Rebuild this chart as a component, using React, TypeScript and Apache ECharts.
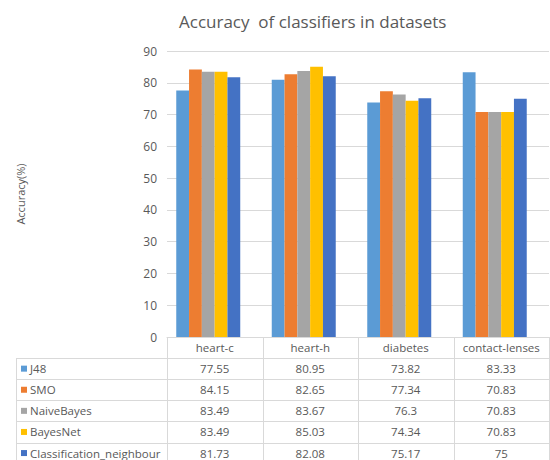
import React, { useEffect, useRef } from "react";
import * as echarts from "echarts";

const categories = ["heart-c", "heart-h", "diabetes", "contact-lenses"];
const seriesNames = ["J48", "SMO", "NaiveBayes", "BayesNet", "Classification_neighbour"];
const j48 = [77.55, 80.95, 73.82, 83.33];
const smo = [84.15, 82.65, 77.34, 70.83];
const naiveBayes = [83.49, 83.67, 76.3, 70.83];
const bayesNet = [83.49, 85.03, 74.34, 70.83];
const classificationNeighbour = [81.73, 82.08, 75.17, 75];
const seriesValues = [j48, smo, naiveBayes, bayesNet, classificationNeighbour];
const colors = ["#5B9BD5", "#ED7D31", "#A5A5A5", "#FFC000", "#4472C4"];
const yTicks = { min: 0, max: 90, interval: 10 };

const FONT = "'Open Sans', 'Noto Sans', sans-serif";
const TEXT = "#595959";
const LINE = "#d9d9d9";

export default function App() {
  const ref = useRef<HTMLDivElement>(null);
  useEffect(() => {
    if (!ref.current) return;
    const chart = echarts.init(ref.current, null, { renderer: "svg" });
    const L = 167, R = 549, TOP = 51, ZERO = 337, ROWH = 21.1, TL = 16;
    const SHIFT = 6.5;
    const colW = (R - L) / categories.length;
    const graphic: any[] = [];
    for (let i = 1; i <= seriesNames.length + 1; i++) {
      const y = Math.round(ZERO + ROWH * i) + 0.5;
      graphic.push({ type: "line", shape: { x1: TL, y1: y, x2: R, y2: y }, style: { stroke: LINE, lineWidth: 1 } });
    }
    graphic.push({ type: "line", shape: { x1: TL + 0.5, y1: ZERO + ROWH, x2: TL + 0.5, y2: 470 }, style: { stroke: LINE, lineWidth: 1 } });
    for (let k = 0; k <= categories.length; k++) {
      const x = Math.round(L + k * colW) + 0.5;
      graphic.push({ type: "line", shape: { x1: x, y1: ZERO, x2: x, y2: 470 }, style: { stroke: LINE, lineWidth: 1 } });
    }
    categories.forEach((c, k) => {
      graphic.push({
        type: "text", x: L + (k + 0.5) * colW, y: ZERO + ROWH / 2,
        style: { text: c, fill: TEXT, font: `11.5px ${FONT}`, textAlign: "center", textVerticalAlign: "middle" },
      });
    });
    seriesNames.forEach((name, i) => {
      const cy = ZERO + ROWH * (i + 1.5);
      graphic.push({ type: "rect", shape: { x: 21, y: cy - 3, width: 6, height: 6 }, style: { fill: colors[i] } });
      graphic.push({
        type: "text", x: 30, y: cy,
        style: { text: name, fill: TEXT, font: `11.5px ${FONT}`, textAlign: "left", textVerticalAlign: "middle" },
      });
      seriesValues[i].forEach((v, k) => {
        graphic.push({
          type: "text", x: L + (k + 0.5) * colW, y: cy,
          style: { text: String(v), fill: TEXT, font: `11.5px ${FONT}`, textAlign: "center", textVerticalAlign: "middle" },
        });
      });
    });

    chart.setOption({
      animation: false,
      backgroundColor: "#ffffff",
      title: {
        text: "Accuracy  of classifiers in datasets",
        left: 174, top: 8,
        textStyle: { color: TEXT, fontSize: 17, fontWeight: "normal", fontFamily: FONT },
      },
      grid: [
        { left: L, right: 550 - R, top: TOP, bottom: 460 - ZERO },
        { left: L - SHIFT, right: 550 - R + SHIFT, top: TOP, bottom: 460 - ZERO },
      ],
      xAxis: [
        {
          type: "category", gridIndex: 0, data: categories,
          axisLine: { show: true, lineStyle: { color: LINE } },
          axisTick: { show: false }, axisLabel: { show: false },
        },
        {
          type: "category", gridIndex: 1, data: categories,
          axisLine: { show: false }, axisTick: { show: false }, axisLabel: { show: false },
        },
      ],
      yAxis: [
        {
          type: "value", gridIndex: 0,
          min: yTicks.min, max: yTicks.max, interval: yTicks.interval,
          name: "Accuracy(%)", nameLocation: "middle", nameGap: 141,
          nameTextStyle: { color: TEXT, fontSize: 11, fontFamily: FONT },
          axisLabel: { color: TEXT, fontSize: 12, fontFamily: FONT, margin: 10 },
          axisLine: { show: false }, axisTick: { show: false },
          splitLine: { lineStyle: { color: LINE } },
        },
        {
          type: "value", gridIndex: 1,
          min: yTicks.min, max: yTicks.max, interval: yTicks.interval,
          axisLabel: { show: false }, axisLine: { show: false }, axisTick: { show: false },
          splitLine: { show: false },
        },
      ],
      series: seriesNames.map((name, i) => ({
        name, type: "bar", data: seriesValues[i],
        xAxisIndex: 1, yAxisIndex: 1,
        itemStyle: { color: colors[i] },
        barGap: "0%", barCategoryGap: "33%",
      })),
      graphic,
    });
    return () => chart.dispose();
  }, []);
  return <div ref={ref} style={{ width: 550, height: 460, position: "fixed", left: 0, top: 0 }} />;
}
